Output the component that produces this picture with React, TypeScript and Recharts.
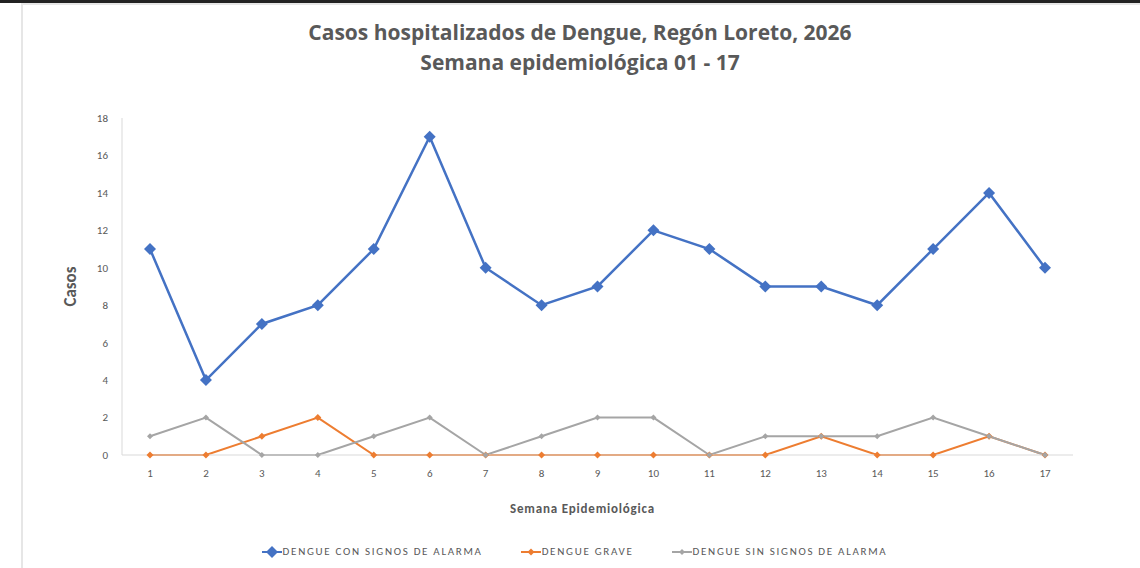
import React from "react";
import {
  LineChart,
  Line,
  XAxis,
  YAxis,
  Legend,
} from "recharts";

const semanas = ["1", "2", "3", "4", "5", "6", "7", "8", "9", "10", "11", "12", "13", "14", "15", "16", "17"];
const conSignos = [11, 4, 7, 8, 11, 17, 10, 8, 9, 12, 11, 9, 9, 8, 11, 14, 10];
const grave = [0, 0, 1, 2, 0, 0, 0, 0, 0, 0, 0, 0, 1, 0, 0, 1, 0];
const sinSignos = [1, 2, 0, 0, 1, 2, 0, 1, 2, 2, 0, 1, 1, 1, 2, 1, 0];
const yTicks = [0, 2, 4, 6, 8, 10, 12, 14, 16, 18];

const data = semanas.map((s, i) => ({
  semana: s,
  conSignos: conSignos[i],
  grave: grave[i],
  sinSignos: sinSignos[i],
}));

const series = [
  { key: "conSignos", name: "DENGUE CON SIGNOS DE ALARMA", color: "#4472C4", width: 2.5, size: 6 },
  { key: "grave", name: "DENGUE GRAVE", color: "#ED7D31", width: 2, size: 3.5 },
  { key: "sinSignos", name: "DENGUE SIN SIGNOS DE ALARMA", color: "#A5A5A5", width: 2, size: 3 },
];

const FONT = "Calibri, Carlito, 'Open Sans', sans-serif";

// diamond marker like the excel one
const diamond = (color: string, size: number) => (props: any) => {
  const { cx, cy, index } = props;
  if (cx == null || cy == null) return null;
  return (
    <polygon
      key={index}
      points={`${cx},${cy - size} ${cx + size},${cy} ${cx},${cy + size} ${cx - size},${cy}`}
      fill={color}
    />
  );
};

const LegendContent = () => (
  <div
    style={{
      display: "flex",
      justifyContent: "center",
      gap: 38,
      fontFamily: FONT,
      fontSize: 11,
      letterSpacing: 1.7,
      color: "#595959",
      paddingLeft: 14,
    }}
  >
    {series.map((s) => (
      <div key={s.key} style={{ display: "flex", alignItems: "center" }}>
        <svg width={20} height={12} style={{ marginRight: 1 }}>
          <line x1={0} y1={6} x2={20} y2={6} stroke={s.color} strokeWidth={2} />
          <polygon points={`10,${6 - s.size} ${10 + s.size},6 10,${6 + s.size} ${10 - s.size},6`} fill={s.color} />
        </svg>
        <span>{s.name}</span>
      </div>
    ))}
  </div>
);

export default function App() {
  return (
    <div style={{ position: "absolute", left: 0, top: 0, width: 1140, height: 568, background: "#fff", overflow: "hidden" }}>
      <div style={{ position: "absolute", left: 0, top: 0, width: 1140, height: 3, background: "#222" }} />
      <div style={{ position: "absolute", left: 21, top: 3, width: 1119, height: 565, borderLeft: "2px solid #e6e6e6", borderTop: "2px solid #e6e6e6" }} />
      <div
        style={{
          position: "absolute",
          left: 0,
          top: 17,
          width: 1160,
          textAlign: "center",
          fontFamily: "'Open Sans', sans-serif",
          fontWeight: "bold",
          fontSize: 21,
          color: "#595959",
          lineHeight: "30px",
        }}
      >
        <div>Casos hospitalizados de Dengue, Regón Loreto, 2026</div>
        <div>Semana epidemiológica 01 - 17</div>
      </div>
      <div style={{ position: "absolute", left: 0, top: 0 }}>
        <LineChart
          width={1140}
          height={568}
          data={data}
          margin={{ top: 118, right: 67, left: 62, bottom: 38 }}
        >
          <XAxis
            dataKey="semana"
            padding={{ left: 28, right: 28 }}
            interval={0}
            tickLine={false}
            tickMargin={8}
            axisLine={{ stroke: "#d9d9d9" }}
            tick={{ fill: "#595959", fontSize: 11, fontFamily: FONT }}
            height={62}
            label={{
              value: "Semana Epidemiológica",
              position: "insideBottom",
              offset: 4,
              dx: -15,
              style: { fill: "#595959", fontSize: 13, letterSpacing: 0.8, fontWeight: "bold", fontFamily: FONT },
            }}
          />
          <YAxis
            width={60}
            domain={[0, 18]}
            ticks={yTicks}
            interval={0}
            tickLine={false}
            tickMargin={8}
            axisLine={{ stroke: "#d9d9d9" }}
            tick={{ fill: "#595959", fontSize: 11, fontFamily: FONT }}
            label={{
              value: "Casos",
              angle: -90,
              position: "insideLeft",
              offset: 8,
              style: { textAnchor: "middle", fill: "#595959", fontSize: 17, fontWeight: "bold", fontFamily: FONT },
            }}
          />
          <Legend verticalAlign="bottom" content={<LegendContent />} wrapperStyle={{ bottom: 10 }} />
          {series.map((s) => (
            <Line
              key={s.key}
              type="linear"
              dataKey={s.key}
              name={s.name}
              stroke={s.color}
              strokeWidth={s.width}
              dot={diamond(s.color, s.size)}
              activeDot={false}
              isAnimationActive={false}
            />
          ))}
        </LineChart>
      </div>
    </div>
  );
}
